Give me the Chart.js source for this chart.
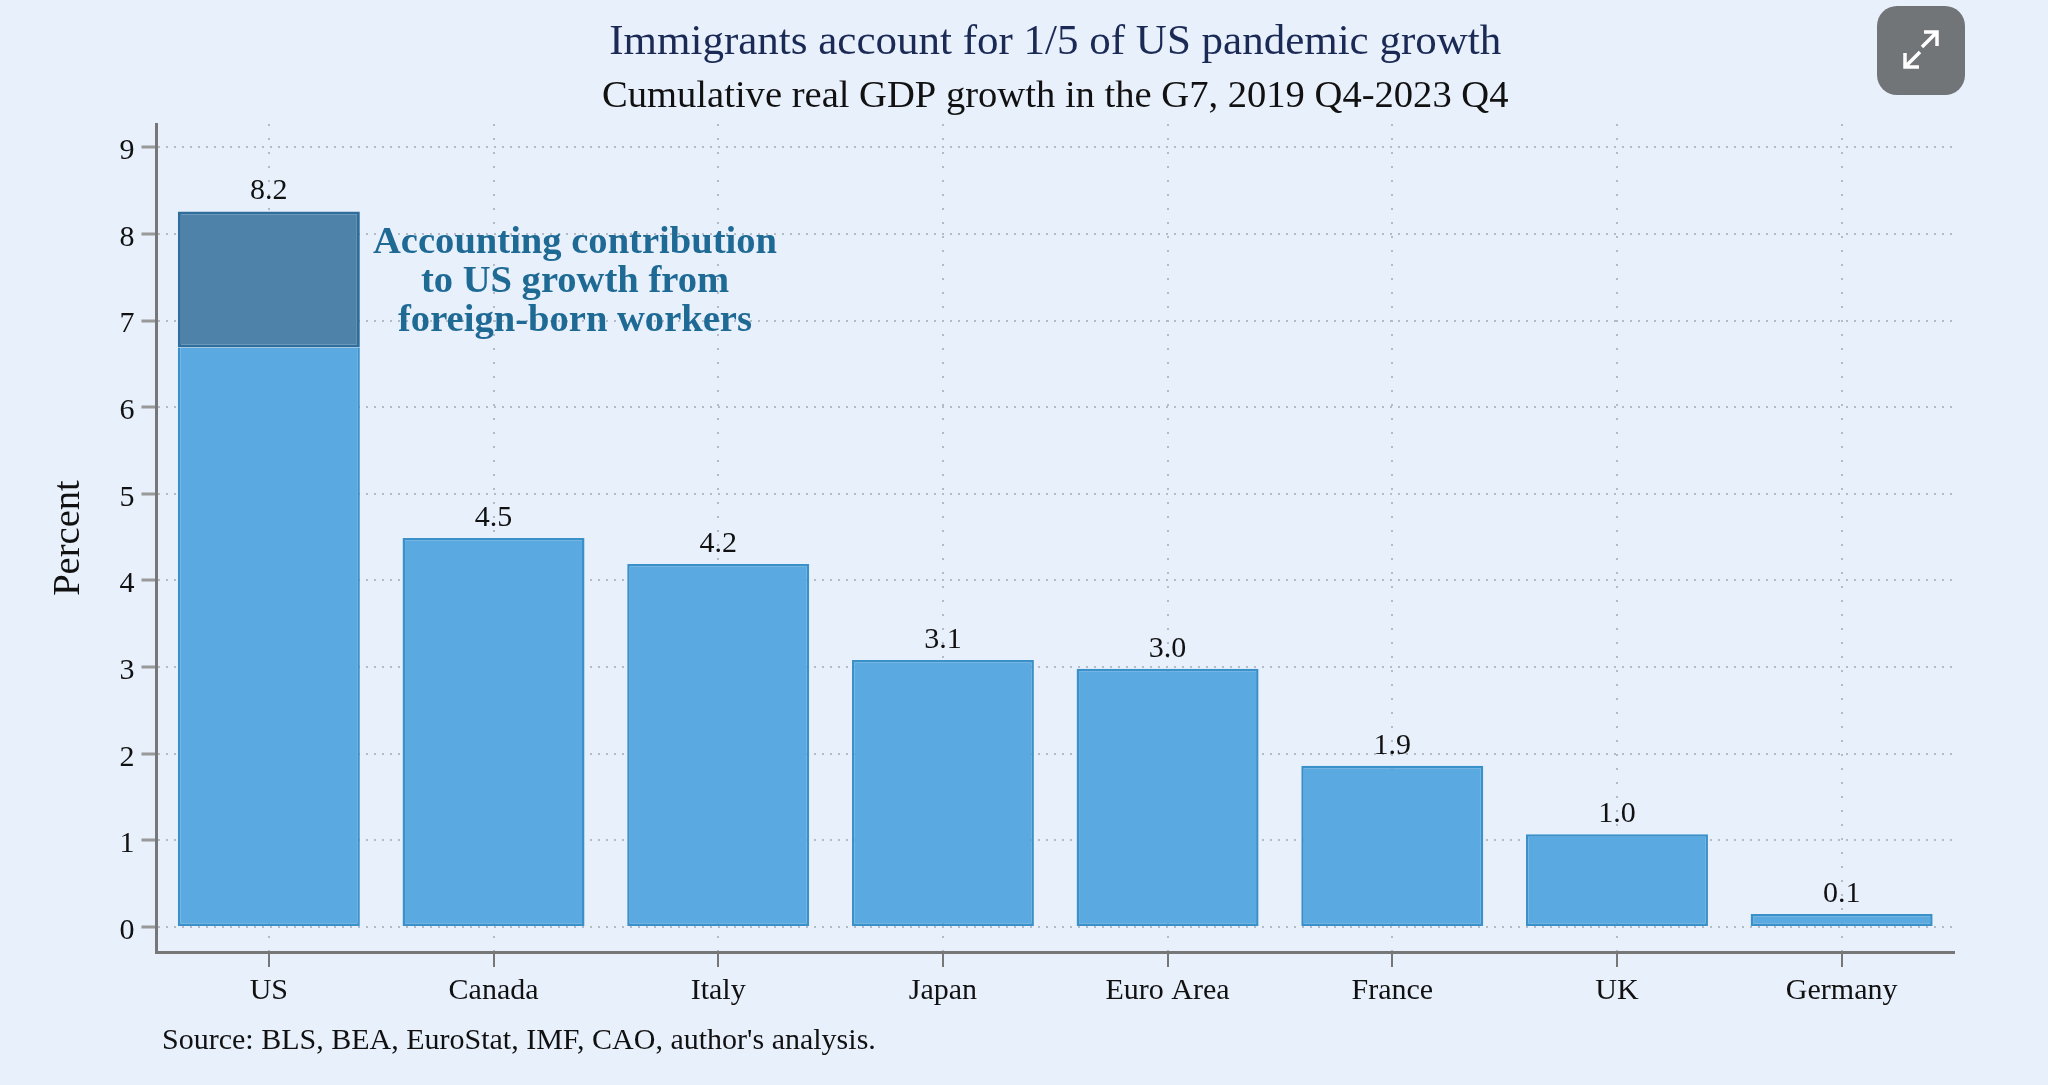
<!DOCTYPE html>
<html>
<head>
<meta charset="utf-8">
<script src="https://cdn.jsdelivr.net/npm/chart.js@4"></script>
<style>
html, body { margin: 0; padding: 0; background: #e8f0fc; overflow: hidden; }
#wrap { position: relative; width: 2048px; height: 1085px; }
#expand { position: absolute; left: 1877px; top: 6px; width: 88px; height: 89px; }
</style>
</head>
<body>
<div id="wrap">
<canvas id="gdp" width="2048" height="1085"></canvas>
<svg id="expand" viewBox="0 0 88 89">
  <rect width="88" height="89" rx="20" fill="#727578"/>
  <path d="M45 41 L60 26 M47 26 H60 V40 M43 46 L28 61 M28 47 V61 H42" fill="none" stroke="#fff" stroke-width="3.5"/>
</svg>
</div>
<script>
var serif = '"Liberation Serif"';

var countries = ['US', 'Canada', 'Italy', 'Japan', 'Euro Area', 'France', 'UK', 'Germany'];
var baseGrowth = [6.69, 4.49, 4.19, 3.08, 2.98, 1.86, 1.07, 0.15];
var foreignBorn = [1.57, null, null, null, null, null, null, null];
var barLabels = ['8.2', '4.5', '4.2', '3.1', '3.0', '1.9', '1.0', '0.1'];
var yTicks = [0, 1, 2, 3, 4, 5, 6, 7, 8, 9];
var noteLines = ['Accounting contribution', 'to US growth from', 'foreign-born workers'];
var sourceText = "Source: BLS, BEA, EuroStat, IMF, CAO, author's analysis.";

// value labels, the note next to the US bar and the source line
var textPlugin = {
  id: 'textPlugin',
  afterDraw: function(chart) {
    var ctx = chart.ctx, x = chart.scales.x, y = chart.scales.y;
    ctx.save();
    ctx.textAlign = 'center';
    ctx.textBaseline = 'alphabetic';
    ctx.fillStyle = '#111';
    ctx.font = '30px ' + serif;
    barLabels.forEach(function(txt, i) {
      var top = baseGrowth[i] + (foreignBorn[i] || 0);
      ctx.fillText(txt, x.getPixelForValue(i), y.getPixelForValue(top) - 12);
    });

    ctx.fillStyle = '#1f6a94';
    ctx.font = 'bold 38.6px ' + serif;
    noteLines.forEach(function(txt, i) {
      ctx.fillText(txt, 575, 253 + i * 39);
    });

    ctx.textAlign = 'left';
    ctx.fillStyle = '#111';
    ctx.font = '30px ' + serif;
    ctx.fillText(sourceText, 162, 1049);
    ctx.restore();
  }
};

new Chart(document.getElementById('gdp'), {
  type: 'bar',
  data: {
    labels: countries,
    datasets: [{
      label: 'Total',
      data: baseGrowth,
      backgroundColor: '#5ba9e1',
      borderColor: '#3a90c8',
      borderWidth: 2.5,
      // the dark segment's own edge shows at the split
      borderSkipped: function(ctx) { return foreignBorn[ctx.dataIndex] ? 'top' : false; },
      barPercentage: 0.81,
      categoryPercentage: 1
    }, {
      label: 'Foreign-born workers',
      data: foreignBorn,
      backgroundColor: '#4f82a9',
      borderColor: '#2f6d9b',
      borderWidth: 3,
      borderSkipped: false,
      barPercentage: 0.81,
      categoryPercentage: 1
    }]
  },
  options: {
    responsive: false,
    animation: false,
    layout: { padding: { left: 0, right: 94, top: 0, bottom: 0 } },
    plugins: {
      legend: { display: false },
      tooltip: { enabled: false },
      title: {
        display: true,
        text: 'Immigrants account for 1/5 of US pandemic growth',
        fullSize: false,
        color: '#1b2a55',
        font: { family: serif, size: 43, weight: 'normal', lineHeight: 1 },
        padding: { top: 21, bottom: 4 }
      },
      subtitle: {
        display: true,
        text: 'Cumulative real GDP growth in the G7, 2019 Q4-2023 Q4',
        fullSize: false,
        color: '#111',
        font: { family: serif, size: 38.6, weight: 'normal', lineHeight: 1 },
        padding: { top: 10, bottom: 7.4 }
      }
    },
    scales: {
      x: {
        stacked: true,
        afterFit: function(scale) { scale.height = 133; },
        ticks: { color: '#111', font: { family: serif, size: 30 }, padding: 6, maxRotation: 0 },
        border: { color: '#777', width: 3, dash: [2, 12] },
        grid: {
          offset: false,
          color: '#b4bbc6',
          tickColor: '#777',
          tickLength: 15,
          tickWidth: 2,
          lineWidth: 2
        }
      },
      y: {
        stacked: true,
        min: -0.29,
        max: 9.27,
        afterBuildTicks: function(scale) {
          scale.ticks = yTicks.map(function(v) { return { value: v }; });
        },
        afterFit: function(scale) { scale.width = 156.5; },
        title: {
          display: true,
          text: 'Percent',
          color: '#111',
          font: { family: serif, size: 38.6 },
          padding: { top: 46, bottom: 0 }
        },
        ticks: { color: '#111', font: { family: serif, size: 30 }, padding: 7, labelOffset: 4 },
        border: { color: '#777', width: 3, dash: [2, 6] },
        grid: {
          color: '#b4bbc6',
          tickColor: '#999',
          tickLength: 15,
          tickWidth: 3,
          lineWidth: 2
        }
      }
    }
  },
  plugins: [textPlugin]
});
</script>
</body>
</html>
